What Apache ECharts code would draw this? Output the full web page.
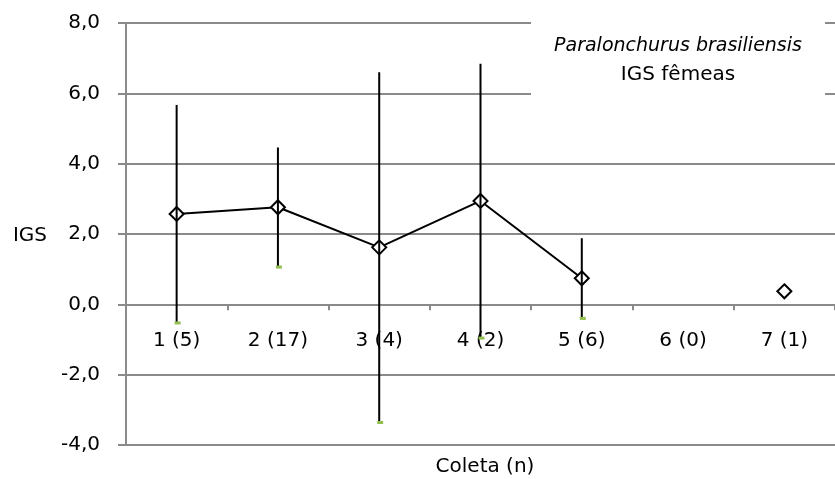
<!DOCTYPE html>
<html>
<head>
<meta charset="utf-8">
<script src="https://cdn.jsdelivr.net/npm/echarts@6/dist/echarts.min.js"></script>
<style>
  html, body { margin: 0; padding: 0; background: #fff; }
  #chart { width: 835px; height: 479px; }
</style>
</head>
<body>
<div id="chart"></div>
<script>
// Collections and sample sizes
const categories = ['1 (5)', '2 (17)', '3 (4)', '4 (2)', '5 (6)', '6 (0)', '7 (1)'];
// Mean gonadosomatic index per collection (null = no females sampled)
const meanIGS = [2.57, 2.76, 1.62, 2.94, 0.74, null, 0.37];
// Standard deviation shown as the error bar half-length
const sdIGS = [3.10, 1.70, 4.98, 3.90, 1.14, null, null];
const yTicks = { min: -4, max: 8, interval: 2 };

const FONT = '"DejaVu Sans", sans-serif';
const FS = 20;
const GRID = '#8a8a8a';

// plot rectangle
const G = { left: 126, right: -9, top: 23, bottom: 34 };
const plotH = 479 - G.top - G.bottom;
// category axis sits on the zero line of the value axis
const zeroOffset = -plotH * (0 - yTicks.min) / (yTicks.max - yTicks.min);

const errData = meanIGS.map((m, i) =>
  (m === null || sdIGS[i] === null) ? null : [i, m - sdIGS[i], m + sdIGS[i]]
).filter(d => d !== null);

const chart = echarts.init(document.getElementById('chart'));
chart.setOption({
  animation: false,
  backgroundColor: '#ffffff',
  grid: { left: G.left, right: G.right, top: G.top, bottom: G.bottom, containLabel: false },
  graphic: [
    {
      type: 'rect', z: 10,
      shape: { x: 531, y: 14, width: 294, height: 86 },
      style: { fill: '#ffffff' }
    },
    {
      type: 'text', z: 11, x: 678, y: 46,
      style: {
        text: 'Paralonchurus brasiliensis', fontFamily: FONT, fontStyle: 'italic',
        fontSize: FS - 1, fill: '#000', align: 'center', verticalAlign: 'middle'
      }
    },
    {
      type: 'text', z: 11, x: 678, y: 75,
      style: {
        text: 'IGS fêmeas', fontFamily: FONT, fontSize: FS, fill: '#000',
        align: 'center', verticalAlign: 'middle'
      }
    },
    {
      type: 'text', z: 11, x: 485, y: 467,
      style: {
        text: 'Coleta (n)', fontFamily: FONT, fontSize: FS, fill: '#000',
        align: 'center', verticalAlign: 'middle'
      }
    },
    {
      type: 'text', z: 11, x: 30, y: 236,
      style: {
        text: 'IGS', fontFamily: FONT, fontSize: FS, fill: '#000',
        align: 'center', verticalAlign: 'middle'
      }
    }
  ],
  xAxis: {
    type: 'category',
    data: categories,
    boundaryGap: true,
    offset: zeroOffset,
    axisLine: { onZero: false, lineStyle: { color: GRID, width: 2 } },
    axisTick: { show: true, length: 6, inside: false, lineStyle: { color: GRID, width: 2 } },
    axisLabel: { color: '#000', fontFamily: FONT, fontSize: FS, margin: 26 },
    splitLine: { show: false }
  },
  yAxis: {
    type: 'value',
    min: yTicks.min, max: yTicks.max, interval: yTicks.interval,
    axisLine: { show: true, lineStyle: { color: GRID, width: 2 } },
    axisTick: { show: true, length: 8, lineStyle: { color: GRID, width: 2 } },
    axisLabel: {
      color: '#000', fontFamily: FONT, fontSize: FS, margin: 26,
      formatter: v => v.toFixed(1).replace('.', ',')
    },
    splitLine: { show: true, lineStyle: { color: GRID, width: 2 } }
  },
  series: [
    {
      type: 'line',
      data: meanIGS,
      connectNulls: false,
      symbol: 'diamond',
      symbolSize: 14,
      itemStyle: { color: '#ffffff', borderColor: '#000', borderWidth: 2 },
      lineStyle: { color: '#000', width: 2 },
      z: 3
    },
    {
      type: 'custom',
      data: errData,
      z: 4,
      renderItem: (params, api) => {
        const x = api.value(0);
        const lo = api.coord([x, api.value(1)]);
        const hi = api.coord([x, api.value(2)]);
        return {
          type: 'group',
          children: [
            {
              type: 'line',
              shape: { x1: lo[0], y1: lo[1], x2: hi[0], y2: hi[1] },
              style: { stroke: '#000', lineWidth: 2 }
            },
            {
              type: 'rect',
              shape: { x: lo[0] - 2, y: lo[1] - 1.5, width: 6, height: 3 },
              style: { fill: '#92c050' }
            }
          ]
        };
      },
      encode: { x: 0, y: [1, 2] }
    }
  ]
});
</script>
</body>
</html>
